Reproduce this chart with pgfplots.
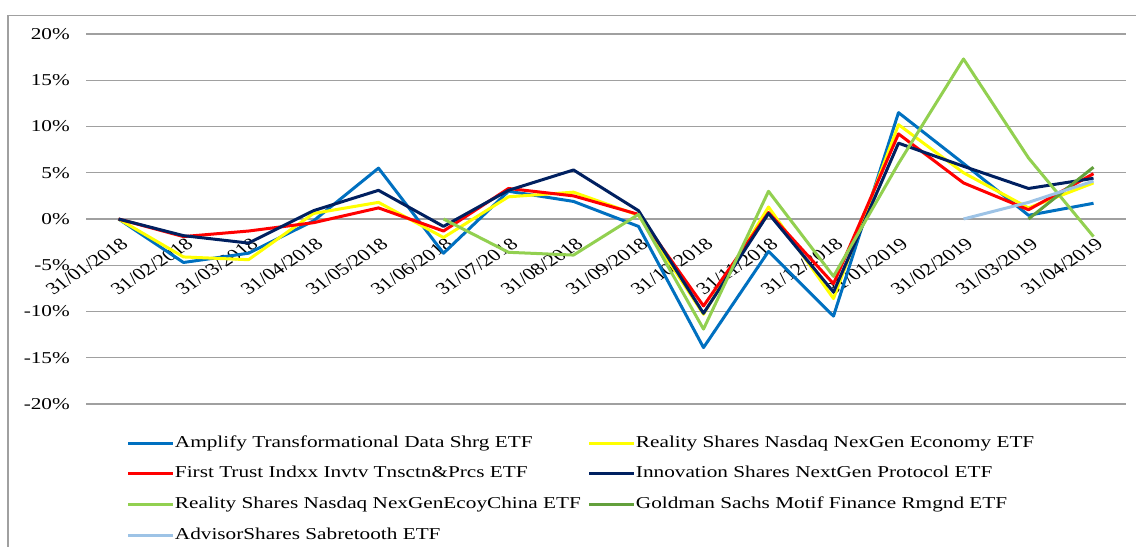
\documentclass[border=0pt]{standalone}
\usepackage{fontspec}
\setmainfont{Liberation Serif}
\newfontfamily\widefont{Liberation Serif}[FakeStretch=1.28]
\usepackage{pgfplots}
\pgfplotsset{compat=1.18}
\definecolor{gridgray}{RGB}{160,160,160}
\definecolor{cA}{HTML}{0070C0}
\definecolor{cB}{HTML}{FFFF00}
\definecolor{cC}{HTML}{FF0000}
\definecolor{cD}{HTML}{002060}
\definecolor{cE}{HTML}{92D050}
\definecolor{cF}{RGB}{99,160,60}
\definecolor{cG}{HTML}{9DC3E6}
\begin{document}
\begin{tikzpicture}
\useasboundingbox (0,0) rectangle (1136bp,-547bp);
\draw[draw=gridgray, line width=1.2bp] (8bp,-547bp) -- (8bp,-15.3bp) -- (1136bp,-15.3bp);
\begin{axis}[
  at={(86bp,-404bp)}, anchor=south west,
  scale only axis, width=1040bp, height=370bp,
  xmin=-0.5, xmax=15.5, ymin=-20, ymax=20,
  axis x line=middle, axis y line=left,
  x axis line style={draw=gridgray, line width=1.2bp, -},
  y axis line style={draw=none},
  ytick={-20,-15,...,20},
  yticklabels={-20\%,-15\%,-10\%,-5\%,0\%,5\%,10\%,15\%,20\%},
  ymajorgrids, grid style={gridgray, line width=1.2bp},
  xtick={0,...,15},
  xticklabels={31/01/2018,31/02/2018,31/03/2018,31/04/2018,31/05/2018,31/06/2018,31/07/2018,31/08/2018,31/09/2018,31/10/2018,31/11/2018,31/12/2018,31/01/2019,31/02/2019,31/03/2019,31/04/2019},
  major tick length=0,
  yticklabel style={font=\widefont\fontsize{16.6bp}{20bp}\selectfont, inner sep=0pt, anchor=east, xshift=-16bp},
  xticklabel style={font=\fontsize{17bp}{20bp}\selectfont, inner sep=0pt, anchor=north east, yshift=-18bp, xshift=1.5bp, xscale=1.28, rotate=40},
  ser/.style={line width=3bp, line join=round},
  legend columns=2,
  legend cell align=left,
  legend style={at={(0.0394,-0.0845)}, anchor=north west, draw=none, fill=none, inner sep=0pt, outer sep=0pt, column sep=0pt, row sep=14.7bp, font=\widefont\fontsize{16.6bp}{20bp}\selectfont, nodes={inner sep=0pt, text height=12bp, text depth=4bp, anchor=west}},
  legend image code/.code={\path (0bp,0bp) -- (45bp,0bp); \draw[#1] (0bp,0bp) -- (43bp,0bp);},
]
\addplot[ser, cA] coordinates {(0,0) (1,-4.7) (2,-3.7) (3,-0.2) (4,5.5) (5,-3.7) (6,3.0) (7,1.9) (8,-0.8) (9,-13.9) (10,-3.5) (11,-10.5) (12,11.5) (13,6.0) (14,0.4) (15,1.7)};
\addlegendentry{\makebox[413bp][l]{Amplify Transformational Data Shrg ETF}}
\addplot[ser, cB] coordinates {(0,0) (1,-4.1) (2,-4.4) (3,0.6) (4,1.8) (5,-2.0) (6,2.4) (7,2.9) (8,0.4) (9,-10.3) (10,1.3) (11,-8.6) (12,10.2) (13,5.0) (14,1.2) (15,3.9)};
\addlegendentry{Reality Shares Nasdaq NexGen Economy ETF}
\addplot[ser, cC] coordinates {(0,0) (1,-1.9) (2,-1.3) (3,-0.4) (4,1.2) (5,-1.3) (6,3.3) (7,2.5) (8,0.5) (9,-9.4) (10,0.7) (11,-7.0) (12,9.2) (13,3.9) (14,1.0) (15,4.9)};
\addlegendentry{\makebox[413bp][l]{First Trust Indxx Invtv Tnsctn\&Prcs ETF}}
\addplot[ser, cD] coordinates {(0,0) (1,-1.8) (2,-2.6) (3,0.9) (4,3.1) (5,-0.8) (6,3.1) (7,5.3) (8,0.9) (9,-10.2) (10,0.6) (11,-7.9) (12,8.2) (13,5.7) (14,3.3) (15,4.4)};
\addlegendentry{Innovation Shares NextGen Protocol ETF}
\addplot[ser, cE] coordinates {(5,0) (6,-3.6) (7,-3.9) (8,0.5) (9,-11.9) (10,3.0) (11,-6.2) (12,6.0) (13,17.3) (14,6.6) (15,-1.9)};
\addlegendentry{\makebox[413bp][l]{Reality Shares Nasdaq NexGenEcoyChina ETF}}
\addplot[ser, cF] coordinates {(14,0) (15,5.6)};
\addlegendentry{Goldman Sachs Motif Finance Rmgnd ETF}
\addplot[ser, cG] coordinates {(13,0) (14,1.8) (15,4.1)};
\addlegendentry{\makebox[413bp][l]{AdvisorShares Sabretooth ETF}}
\end{axis}
\end{tikzpicture}
\end{document}
